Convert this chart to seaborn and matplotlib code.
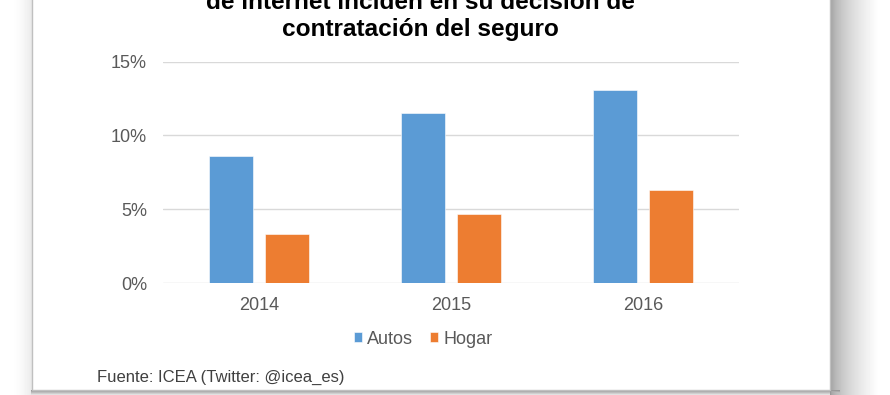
import matplotlib
matplotlib.use("Agg")
import matplotlib.pyplot as plt
import numpy as np
import pandas as pd
import seaborn as sns
from matplotlib.patches import Rectangle
from matplotlib.ticker import PercentFormatter

years = ["2014", "2015", "2016"]
series = ["Autos", "Hogar"]
autos = [8.6, 11.5, 13.1]
hogar = [3.3, 4.7, 6.3]
y_ticks = [0, 5, 10, 15]
title_lines = ["de internet inciden en su decisión de", "contratación del seguro"]
source = "Fuente: ICEA (Twitter: @icea_es)"

BLUE = "#5B9BD5"
ORANGE = "#ED7D31"
TEXT = "#595959"

df = pd.DataFrame({
    "year": years * 2,
    "serie": [series[0]] * len(years) + [series[1]] * len(years),
    "value": autos + hogar,
})

sns.set_theme(style="white")
plt.rcParams["font.family"] = ["Liberation Sans", "DejaVu Sans"]

W, H = 890, 395
fig = plt.figure(figsize=(W / 100, H / 100), dpi=100)
fig.patch.set_facecolor("white")

# screenshot-like card with a soft shadow
bg = fig.add_axes([0, 0, 1, 1], zorder=-10)
xs = np.arange(W)[None, :]
ys = np.arange(H)[:, None]
img = np.ones((H, W))
right = 0.6 + 0.4 * np.clip((xs - 830) / 48, 0, 1) ** 0.55
img = np.where(xs >= 830, np.minimum(img, right), img)
left = 1 - 0.09 * np.clip((xs - 8) / 24, 0, 1) ** 2
img = np.where(xs < 32, np.minimum(img, left), img)
bottom = 0.6 + 0.35 * np.clip((ys - 390) / 5, 0, 1)
img = np.where((ys >= 390) & (xs > 30) & (xs < 840), np.minimum(img, bottom), img)
bg.imshow(img, cmap="gray", vmin=0, vmax=1, extent=[0, W, H, 0], aspect="auto",
          interpolation="bilinear")
bg.add_patch(Rectangle((32, -5), 798, 395, facecolor="white", edgecolor="#c0c0c0", lw=1))
bg.set_xlim(0, W)
bg.set_ylim(H, 0)
bg.axis("off")

ax = fig.add_axes([163 / W, 1 - 283 / H, 576 / W, 221.5 / H])
sns.barplot(data=df, x="year", y="value", hue="serie", palette=[BLUE, ORANGE],
            saturation=1, width=0.573, gap=0.2, ax=ax, edgecolor="white", linewidth=0.4)

ax.set_ylim(0, 15)
ax.set_yticks(y_ticks)
ax.yaxis.set_major_formatter(PercentFormatter(xmax=100, decimals=0))
ax.yaxis.grid(True, color="#d9d9d9", lw=1)
ax.set_axisbelow(True)
for s in ax.spines.values():
    s.set_visible(False)
ax.set_xlabel("")
ax.set_ylabel("")
ax.tick_params(axis="y", length=0, pad=11.5, labelsize=13, labelcolor=TEXT)
ax.tick_params(axis="x", length=0, pad=10, labelsize=13, labelcolor=TEXT)
ax.patch.set_alpha(0)

handles, labels = ax.get_legend_handles_labels()
ax.get_legend().remove()
fig.legend(handles, labels, loc="center", bbox_to_anchor=(423 / W, 1 - 339 / H),
           ncol=2, frameon=False, fontsize=13, handlelength=0.45, handleheight=0.45,
           handletextpad=0.3, columnspacing=0.9, labelcolor=TEXT)

fig.text(420 / W, 1 - 41 / H, "\n".join(title_lines), ha="center", va="bottom",
         fontsize=17.6, fontweight="bold", color="black", linespacing=1.22)
fig.text(97 / W, 1 - 377 / H, source, ha="left", va="center", fontsize=12, color="#404040")

fig.savefig("out.png", dpi=100)
